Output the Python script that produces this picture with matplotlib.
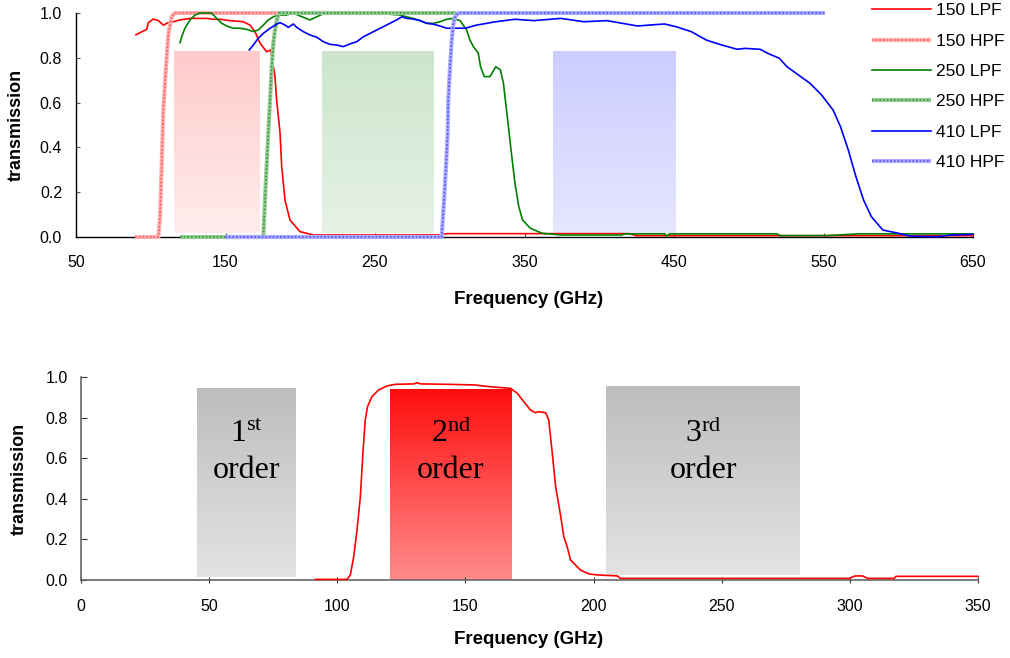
import numpy as np
import matplotlib
matplotlib.use("Agg")
import matplotlib.pyplot as plt
from matplotlib.ticker import FormatStrFormatter
from matplotlib.colors import to_rgb

# ---------------- data (top panel) ----------------
f150L = [90.1, 97.3, 98.4, 101.7, 105.1, 108.4, 111.8, 115.1, 119.6, 126.3, 137.4, 141.8, 146.3, 153,
         161.9, 166.4, 169.7, 173.1, 177.5, 180.2, 183.1, 184.2, 186.5, 187.6, 189.8, 193.1, 199.8,
         208.7, 293, 298, 420, 425, 650]
t150L = [0.903, 0.927, 0.957, 0.973, 0.966, 0.946, 0.957, 0.961, 0.969, 0.976, 0.976, 0.972, 0.972,
         0.966, 0.961, 0.946, 0.917, 0.865, 0.827, 0.835, 0.716, 0.612, 0.463, 0.314, 0.165, 0.076,
         0.024, 0.009, 0.009, 0.015, 0.015, 0.006, 0.006]

f150H = [89.5, 105.1, 106.2, 107.3, 108.4, 110.2, 111.8, 114.0, 115.8, 186]
t150H = [0, 0, 0.092, 0.315, 0.567, 0.76, 0.908, 0.982, 1.0, 1.0]

f250L = [119.6, 120.7, 122.9, 126.3, 129.6, 132.9, 137.4, 140.8, 144.1, 147.5, 150.8, 155.2, 159.7,
         164.2, 168.6, 171.9, 175.3, 178.6, 182, 185.3, 190.9, 195.2, 199.8, 206.5, 211, 215.2, 233.3,
         253.3, 266.7, 271.2, 275.6, 280.1, 284.6, 289, 293.5, 298, 302.4, 306.9, 311.3, 313.5, 315.8,
         319.1, 320.6, 323.1, 326.9, 330.8, 333.9, 335.9, 338.5, 341, 343.6, 346.2, 348.7, 353.9,
         361.6, 374.4, 415, 417, 444, 445, 447, 519, 521, 551, 574, 650]
t250L = [0.867, 0.894, 0.932, 0.969, 0.991, 1.0, 1.0, 0.999, 0.976, 0.954, 0.942, 0.932, 0.932,
         0.927, 0.917, 0.924, 0.946, 0.969, 0.983, 0.991, 0.991, 0.999, 0.987, 0.969, 0.983, 0.996,
         0.998, 0.998, 0.991, 0.983, 0.976, 0.966, 0.954, 0.954, 0.961, 0.972, 0.976, 0.966, 0.924,
         0.879, 0.85, 0.82, 0.76, 0.716, 0.716, 0.76, 0.746, 0.686, 0.537, 0.388, 0.241, 0.135, 0.076,
         0.039, 0.017, 0.009, 0.009, 0.014, 0.014, 0.003, 0.014, 0.014, 0.006, 0.006, 0.014, 0.014]

f250H = [119.6, 175.3, 176.4, 177.5, 178.6, 179.8, 180.9, 182.0, 183.1, 184.2, 185.8, 304]
t250H = [0, 0, 0.166, 0.315, 0.463, 0.611, 0.76, 0.864, 0.923, 0.967, 1.0, 1.0]

f410L = [165.9, 168.6, 171.9, 175.3, 179.8, 184.2, 186.5, 189.8, 192, 195.4, 197.6, 202, 206.5, 211,
         215.4, 219.9, 224.4, 228.8, 233.3, 237.8, 242.2, 246.7, 251.1, 255.6, 260, 264.5, 267.9,
         271.2, 275.6, 280.1, 284.6, 289, 293.5, 298, 302.4, 310.3, 318, 330.8, 343.6, 356.4, 374.3,
         389.7, 405.1, 417.9, 425.6, 433.3, 443.6, 451.3, 461.5, 471.7, 482, 492.3, 497.4, 507.6,
         512.7, 520.4, 525.6, 533.3, 541, 548.7, 556.4, 561.4, 566.6, 571.7, 576.8, 582, 589.7,
         599.9, 607.6, 625.5, 635.8, 650]
t410L = [0.835, 0.857, 0.887, 0.909, 0.932, 0.950, 0.957, 0.946, 0.936, 0.951, 0.936, 0.917, 0.902,
         0.892, 0.872, 0.860, 0.857, 0.850, 0.862, 0.872, 0.894, 0.909, 0.924, 0.939, 0.954, 0.969,
         0.983, 0.976, 0.973, 0.966, 0.954, 0.950, 0.942, 0.932, 0.932, 0.932, 0.946, 0.961, 0.972,
         0.966, 0.976, 0.961, 0.966, 0.951, 0.942, 0.946, 0.951, 0.939, 0.917, 0.879, 0.857, 0.838,
         0.842, 0.838, 0.820, 0.798, 0.760, 0.723, 0.686, 0.634, 0.567, 0.492, 0.388, 0.269, 0.165,
         0.091, 0.031, 0.017, 0.004, 0.001, 0.009, 0.012]

f410H = [149.7, 294.6, 296.2, 297.5, 298.6, 299.0, 300.2, 301.3, 302.4, 303.5, 305.7, 551]
t410H = [0, 0, 0.166, 0.315, 0.463, 0.611, 0.76, 0.878, 0.951, 0.981, 1.0, 1.0]

top_labels = ["150 LPF", "150 HPF", "250 LPF", "250 HPF", "410 LPF", "410 HPF"]
top_xticks = [50, 150, 250, 350, 450, 550, 650]
yticks = [0.0, 0.2, 0.4, 0.6, 0.8, 1.0]

# bands shaded in top panel (GHz)
top_band_lo = [115.5, 214.5, 369.0]
top_band_hi = [172.4, 288.8, 451.0]

# ---------------- data (bottom panel) ----------------
fB = [91.4, 103.8, 105.1, 106.4, 107.7, 109, 110, 110.9, 111.8, 113.5, 116.1, 119.4, 122.7, 129.8,
      131.1, 132.4, 142.9, 153.3, 159.8, 167.6, 170.2, 172.8, 175.4, 177.3, 178.6, 181.3, 182.5,
      183.9, 185.2, 187.1, 188.4, 189.7, 191.0, 192.3, 194.9, 198.2, 201.4, 209.3, 210.5, 299.7,
      302, 305, 306.9, 317.3, 318, 350]
tB = [0.003, 0.003, 0.025, 0.115, 0.246, 0.410, 0.624, 0.788, 0.854, 0.903, 0.936, 0.956, 0.964,
      0.966, 0.972, 0.966, 0.964, 0.961, 0.952, 0.944, 0.920, 0.878, 0.837, 0.824, 0.829, 0.824,
      0.788, 0.624, 0.460, 0.32, 0.213, 0.164, 0.099, 0.082, 0.049, 0.030, 0.025, 0.020, 0.008,
      0.008, 0.02, 0.02, 0.008, 0.008, 0.018, 0.018]
bottom_xticks = [0, 50, 100, 150, 200, 250, 300, 350]
order_digits = ["1", "2", "3"]
order_sups = ["st", "nd", "rd"]
order_lo = [45.3, 120.7, 205.0]
order_hi = [83.6, 168.0, 280.5]
order_ybot = [0.015, 0.0, 0.025]
order_ytop = [0.946, 0.936, 0.955]

# ---------------- styling ----------------
SANS = "Liberation Sans"
SERIF = "Liberation Serif"
plt.rcParams["font.family"] = [SANS, "DejaVu Sans"]


def gradient(ax, x0, x1, y0, y1, ctop, cbot):
    a = np.array(to_rgb(ctop))
    b = np.array(to_rgb(cbot))
    s = np.linspace(0, 1, 256)[:, None]
    img = (a[None, :] * (1 - s) + b[None, :] * s)[:, None, :]
    ax.imshow(img, extent=(x0, x1, y0, y1), origin="upper", aspect="auto",
              zorder=0, interpolation="bilinear")


fig = plt.figure(figsize=(10.1, 6.58), dpi=100)

# ---------- top axes ----------
ax1 = fig.add_axes([76 / 1010, 1 - 237 / 658, 897 / 1010, 224 / 658])
band_top = ["#FFCACA", "#CCE5CC", "#CCCCFF"]
band_bot = ["#FFEDED", "#E6F2E6", "#E6E6FF"]
for lo, hi, ct, cb in zip(top_band_lo, top_band_hi, band_top, band_bot):
    gradient(ax1, lo, hi, 0.018, 0.83, ct, cb)


def hpf(ax, f, t, base, dots):
    l1, = ax.plot(f, t, color=base, lw=3.0, zorder=3, clip_on=False, solid_capstyle="butt")
    l2, = ax.plot(f, t, color=dots, lw=1.2, ls=(0, (1, 1.2)), zorder=3, clip_on=False)
    return (l1, l2)


h1, = ax1.plot(f150L, t150L, color="#FF0000", lw=1.2, zorder=3, clip_on=False)
h2 = hpf(ax1, f150H, t150H, "#FFB0B0", "#FF5A5A")
h3, = ax1.plot(f250L, t250L, color="#008000", lw=1.2, zorder=3, clip_on=False)
h4 = hpf(ax1, f250H, t250H, "#98CC98", "#3A923A")
h5, = ax1.plot(f410L, t410L, color="#0000FF", lw=1.2, zorder=3, clip_on=False)
h6 = hpf(ax1, f410H, t410H, "#AEAEFF", "#5050FF")

ax1.set_xlim(50, 650)
ax1.set_ylim(0, 1)
ax1.set_xticks(top_xticks)
ax1.set_yticks(yticks)
ax1.yaxis.set_major_formatter(FormatStrFormatter("%.1f"))
for s in ["top", "right"]:
    ax1.spines[s].set_visible(False)
for s in ["left", "bottom"]:
    ax1.spines[s].set_color("black")
    ax1.spines[s].set_linewidth(1.0)
ax1.tick_params(axis="x", direction="in", length=3, pad=13, labelsize=11.5, color="#555555")
ax1.tick_params(axis="y", direction="in", length=3, pad=10, labelsize=11.5, color="#555555")
ax1.set_xlabel("Frequency (GHz)", fontsize=13.5, fontweight="bold")
ax1.set_ylabel("transmission", fontsize=13, fontweight="bold")
ax1.xaxis.set_label_coords(0.505, -0.24)
ax1.yaxis.set_label_coords(-0.057, 0.5)

leg = fig.legend([h1, h2, h3, h4, h5, h6], top_labels, loc="upper left",
                 bbox_to_anchor=(872 / 1010, 1 - 3 / 658), frameon=False, fontsize=12.5,
                 borderpad=0, borderaxespad=0, handlelength=3.4, handletextpad=0.3,
                 labelspacing=0.88)

# ---------- bottom axes ----------
ax2 = fig.add_axes([81 / 1010, 1 - 580 / 658, 897 / 1010, 203 / 658])
ord_top = ["#BDBDBD", "#FF0D0D", "#BDBDBD"]
ord_bot = ["#E3E3E3", "#FF8C8C", "#E3E3E3"]
for lo, hi, yb, yt, ct, cb in zip(order_lo, order_hi, order_ybot, order_ytop, ord_top, ord_bot):
    gradient(ax2, lo, hi, yb, yt, ct, cb)

ax2.plot(fB, tB, color="#FF0000", lw=1.2, zorder=3, clip_on=False)

for lo, hi, d, sup in zip(order_lo, order_hi, order_digits, order_sups):
    xc = (lo + hi) / 2
    ax2.text(xc, 0.68, r"$\mathregular{" + d + "^{" + sup + "}}$", ha="center",
             va="baseline", fontsize=23, family=SERIF, zorder=4)
    ax2.text(xc, 0.502, "order", ha="center", va="baseline", fontsize=23,
             family=SERIF, zorder=4)

ax2.set_xlim(0, 350)
ax2.set_ylim(0, 1)
ax2.set_xticks(bottom_xticks)
ax2.set_yticks(yticks)
ax2.yaxis.set_major_formatter(FormatStrFormatter("%.1f"))
for s in ["top", "right"]:
    ax2.spines[s].set_visible(False)
for s in ["left", "bottom"]:
    ax2.spines[s].set_color("#666666")
    ax2.spines[s].set_linewidth(1.2)
ax2.tick_params(axis="x", direction="inout", length=5, pad=11, labelsize=11.5, color="#333333")
ax2.tick_params(axis="y", direction="in", length=4, pad=9.5, labelsize=11.5, color="#333333")
ax2.set_xlabel("Frequency (GHz)", fontsize=13.5, fontweight="bold")
ax2.set_ylabel("transmission", fontsize=13, fontweight="bold")
ax2.xaxis.set_label_coords(0.4995, -0.252)
ax2.yaxis.set_label_coords(-0.059, 0.5)

fig.savefig("out.png", dpi=100)
